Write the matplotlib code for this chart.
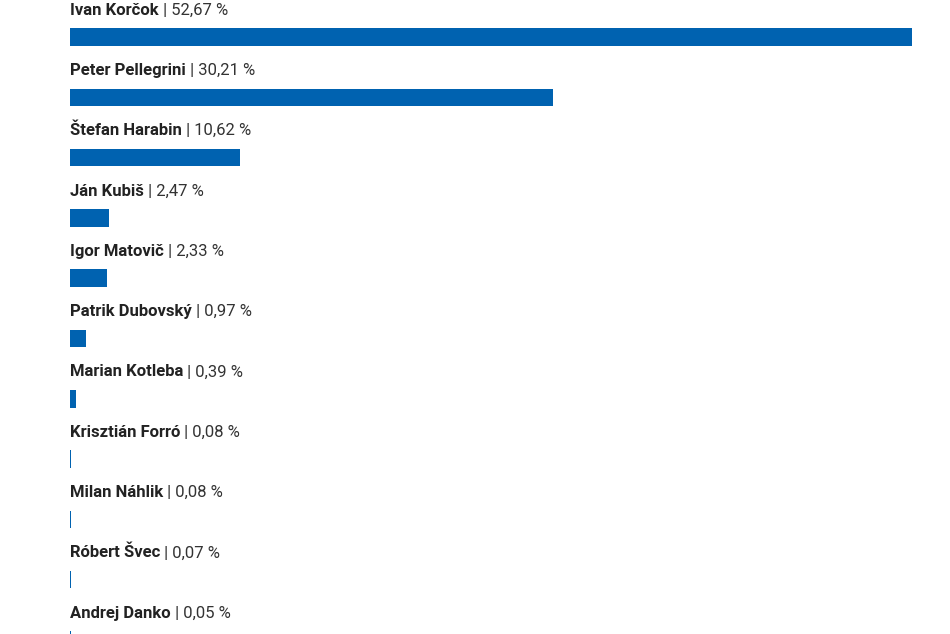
import matplotlib.pyplot as plt

plt.rcParams['font.family'] = ['Roboto', 'DejaVu Sans']

kandidati = ['Ivan Korčok', 'Peter Pellegrini', 'Štefan Harabin', 'Ján Kubiš', 'Igor Matovič',
             'Patrik Dubovský', 'Marian Kotleba', 'Krisztián Forró', 'Milan Náhlik',
             'Róbert Švec', 'Andrej Danko']
percenta = [52.67, 30.21, 10.62, 2.47, 2.33, 0.97, 0.39, 0.08, 0.08, 0.07, 0.05]

fig = plt.figure(figsize=(9.5, 6.34), dpi=100)
ax = fig.add_axes([70 / 950, 0, 842 / 950, 1])
pos = list(range(len(kandidati)))
ax.barh(pos, percenta, height=0.29, color='#0062b0')
ax.set_xlim(0, max(percenta))
ax.set_ylim((634 - 37) / 60.3, -37 / 60.3)
ax.axis('off')

for i, (k, p) in enumerate(zip(kandidati, percenta)):
    t = ax.text(0, i - 0.37, k, fontsize=12, fontweight='bold', color='#222222',
                va='baseline', ha='left')
    ax.annotate(' | ' + f'{p:.2f}'.replace('.', ',') + ' %', xy=(1, 0), xycoords=t,
                va='bottom', ha='left', fontsize=12, color='#333333')

fig.savefig('out.png', dpi=100)
